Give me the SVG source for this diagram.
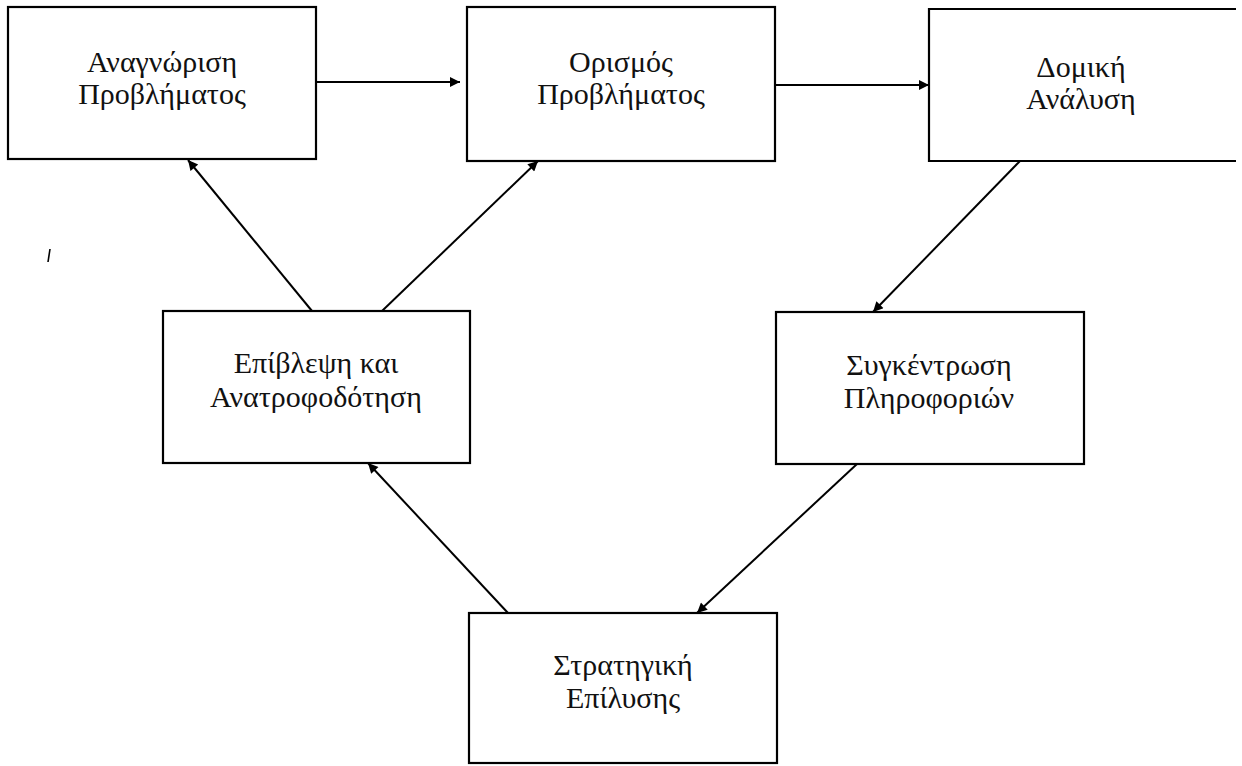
<svg xmlns="http://www.w3.org/2000/svg" width="1242" height="766" viewBox="0 0 1242 766">
<defs>
<style>
.box{fill:#fff;stroke:#000;stroke-width:2.2}
.lbl{font-family:"Liberation Serif","Times New Roman",serif;font-size:30px;fill:#111;text-anchor:middle}
.con{stroke:#000;stroke-width:2;fill:none;marker-end:url(#ah)}
</style>
<marker id="ah" viewBox="0 0 10 10" refX="10" refY="5" markerWidth="6" markerHeight="5" markerUnits="strokeWidth" orient="auto">
<path d="M0,0 L10,5 L0,10 z" fill="#000"/>
</marker>
</defs>
<rect width="1242" height="766" fill="#fff"/>
<g id="n1">
<rect class="box" x="8" y="7" width="308" height="152"/>
<text class="lbl" x="162" y="72">Αναγνώριση</text>
<text class="lbl" x="162" y="104">Προβλήματος</text>
</g>
<g id="n2">
<rect class="box" x="467" y="7" width="308" height="154"/>
<text class="lbl" x="621" y="72">Ορισμός</text>
<text class="lbl" x="621" y="104">Προβλήματος</text>
</g>
<g id="n3">
<path class="box" d="M1236,9 H929 V161 H1236"/>
<text class="lbl" x="1081" y="77">Δομική</text>
<text class="lbl" x="1081" y="109">Ανάλυση</text>
</g>
<g id="n4">
<rect class="box" x="163" y="311" width="307" height="152"/>
<text class="lbl" x="316" y="373">Επίβλεψη και</text>
<text class="lbl" x="316" y="407">Ανατροφοδότηση</text>
</g>
<g id="n5">
<rect class="box" x="776" y="312" width="308" height="152"/>
<text class="lbl" x="929" y="375">Συγκέντρωση</text>
<text class="lbl" x="929" y="408">Πληροφοριών</text>
</g>
<g id="n6">
<rect class="box" x="469" y="613" width="308" height="150"/>
<text class="lbl" x="623" y="675">Στρατηγική</text>
<text class="lbl" x="623" y="708">Επίλυσης</text>
</g>
<g id="connectors">
<line class="con" x1="316" y1="82" x2="460" y2="82"/>
<line class="con" x1="775" y1="85" x2="929" y2="85"/>
<line class="con" x1="312" y1="311" x2="188" y2="160"/>
<line class="con" x1="382" y1="311" x2="538" y2="161"/>
<line class="con" x1="1020" y1="161" x2="873" y2="312"/>
<line class="con" x1="857" y1="464" x2="697" y2="613"/>
<line class="con" x1="508" y1="613" x2="368" y2="463"/>
</g>
<line x1="50" y1="249" x2="48" y2="262" stroke="#000" stroke-width="1.6"/>
</svg>
